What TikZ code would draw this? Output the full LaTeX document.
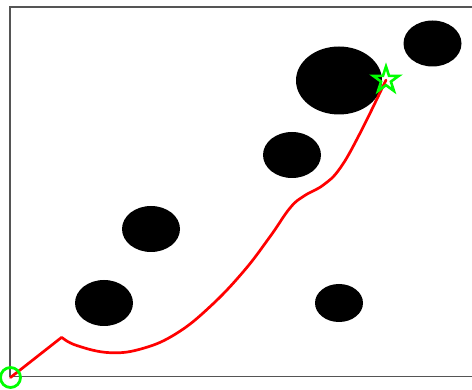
\documentclass[tikz,border=0pt]{standalone}
\usetikzlibrary{shapes.geometric}
\definecolor{lime}{RGB}{0,255,0}
\definecolor{framegray}{RGB}{85,85,85}
\tikzset{
  obstacle/.style={fill=black, draw=none},
  pathline/.style={draw=red, line width=2.7pt, line join=round, line cap=round},
  startmark/.style={circle, draw=lime, line width=2.8pt, minimum size=20pt, inner sep=0pt},
  goalmark/.style={star, star points=5, star point ratio=2.618, draw=lime, line width=2.6pt, minimum size=27pt, inner sep=0pt},
  frameline/.style={draw=framegray, line width=1.3pt}
}
\begin{document}
\begin{tikzpicture}[x=1pt, y=-1pt]
\useasboundingbox (0,0) rectangle (472,390);
\clip (0,0) rectangle (472,390);
\fill[white] (0,0) rectangle (472,390);
\draw[frameline] (480,7) -- (10,7) -- (10,376.5) -- (480,376.5);
% obstacles
\fill[obstacle] (104,303) ellipse [x radius=29, y radius=23];
\fill[obstacle] (151,229) ellipse [x radius=29, y radius=23];
\fill[obstacle] (292,155) ellipse [x radius=29, y radius=23];
\fill[obstacle] (339,303) ellipse [x radius=24, y radius=19];
\fill[obstacle] (339,80.5) ellipse [x radius=43, y radius=34];
\fill[obstacle] (432.5,43.5) ellipse [x radius=29, y radius=23];
% start and goal
\coordinate (start) at (10.5,377.5);
\coordinate (goal) at (386,80);
\coordinate (kink) at (61.7,337.3);
\draw[pathline] (start) -- (kink) plot[smooth, tension=0.7] coordinates {
  (kink) (76.7,345.5) (110,352.7) (143.3,348.3) (176.7,333.3) (210,306.7)
  (243.3,271.7) (270,236.7) (290,208) (304,196) (323.3,185)
  (340,168.3) (360,133.3) (goal)};
\node[startmark] (startnode) at (start) {};
\node[goalmark] (goalnode) at (goal) {};
\end{tikzpicture}
\end{document}
